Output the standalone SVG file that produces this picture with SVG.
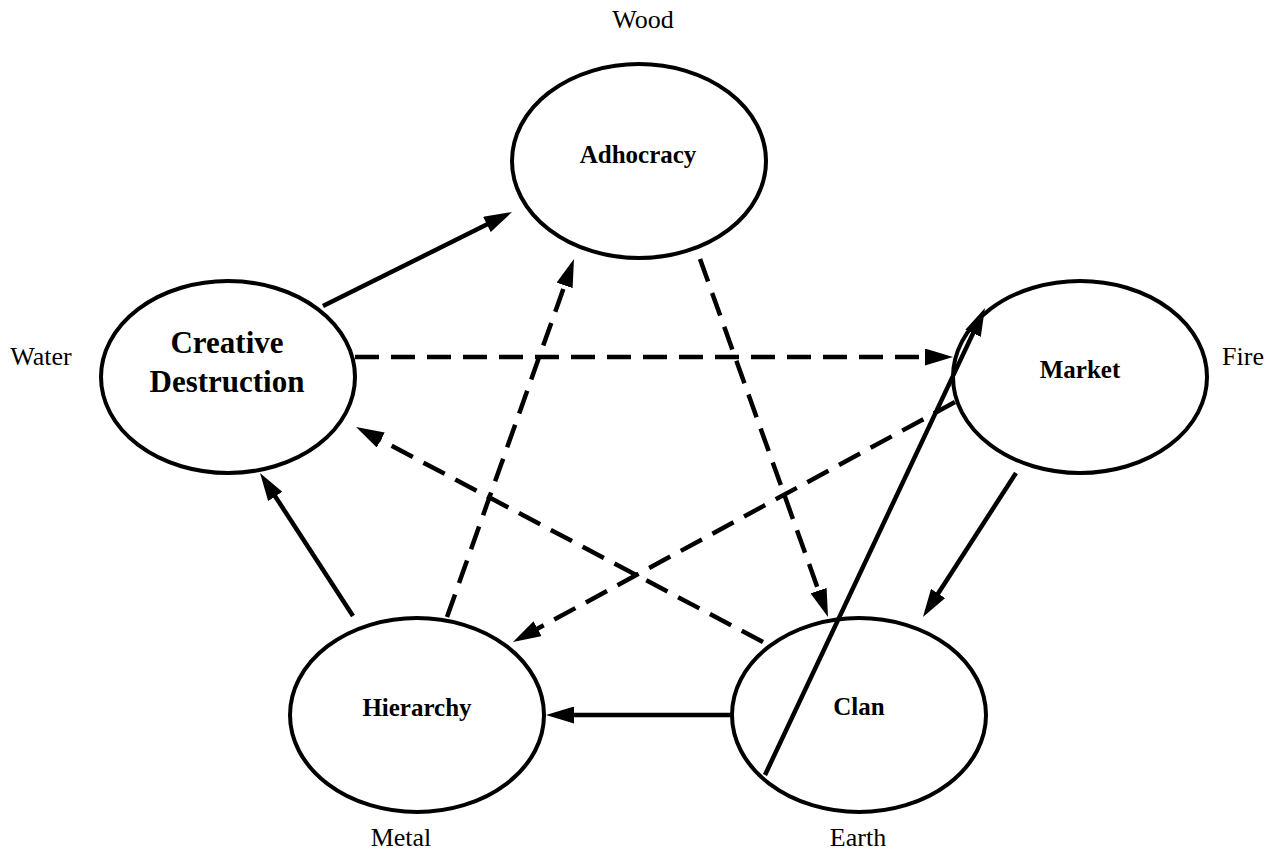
<svg xmlns="http://www.w3.org/2000/svg" width="1270" height="850" viewBox="0 0 1270 850">
<style>
.node ellipse{fill:none;stroke:#000;stroke-width:4}
.nt{font-family:"Liberation Serif","Times New Roman",serif;font-weight:bold;font-size:25px;text-anchor:middle;fill:#000}
.big{font-size:31px}
.lbl{font-family:"Liberation Serif","Times New Roman",serif;font-size:26px;text-anchor:middle;fill:#000}
.c{fill:none;stroke:#000;stroke-width:4.5;marker-end:url(#ah)}
.d{stroke-dasharray:24 12}
</style>
<defs>
<marker id="ah" markerUnits="userSpaceOnUse" markerWidth="28" markerHeight="17" refX="6" refY="8.5" orient="auto">
<path d="M0,0 L28,8.5 L0,17 z" fill="#000"/>
</marker>
</defs>
<rect width="1270" height="850" fill="#fff"/>
<g id="labels">
<text class="lbl" x="643" y="28">Wood</text>
<text class="lbl" x="41" y="365">Water</text>
<text class="lbl" x="1243" y="365">Fire</text>
<text class="lbl" x="401" y="846">Metal</text>
<text class="lbl" x="858" y="846">Earth</text>
</g>
<g id="adhocracy" class="node">
<ellipse cx="639" cy="161" rx="127" ry="97"/>
<text class="nt" x="638" y="163">Adhocracy</text>
</g>
<g id="creative" class="node">
<ellipse cx="228" cy="377" rx="127" ry="96"/>
<text class="nt big" x="227" y="353">Creative</text>
<text class="nt big" x="227" y="392">Destruction</text>
</g>
<g id="market" class="node">
<ellipse cx="1080" cy="377" rx="127" ry="96"/>
<text class="nt" x="1080" y="378">Market</text>
</g>
<g id="hierarchy" class="node">
<ellipse cx="417" cy="715" rx="127" ry="97"/>
<text class="nt" x="417" y="716">Hierarchy</text>
</g>
<g id="clan" class="node">
<ellipse cx="859" cy="715" rx="127" ry="97"/>
<text class="nt" x="859" y="715">Clan</text>
</g>
<g id="connectors">
<path class="c" d="M323,306 L492.3,221.8"/>
<path class="c d" d="M355,357 L931,357"/>
<path class="c d" d="M955,402 L532.3,631.5"/>
<path class="c d" d="M700,259 L820.6,596.3"/>
<path class="c" d="M1016,473 L934.9,598.5"/>
<path class="c" d="M732,715 L568,715"/>
<path class="c d" d="M763,642 L375.5,437.3"/>
<path class="c" d="M353,616 L272,491.4"/>
<path class="c d" d="M447,617 L566.6,279.7"/>
<path class="c" d="M765,775 L975.6,327.9"/>
</g>
</svg>
